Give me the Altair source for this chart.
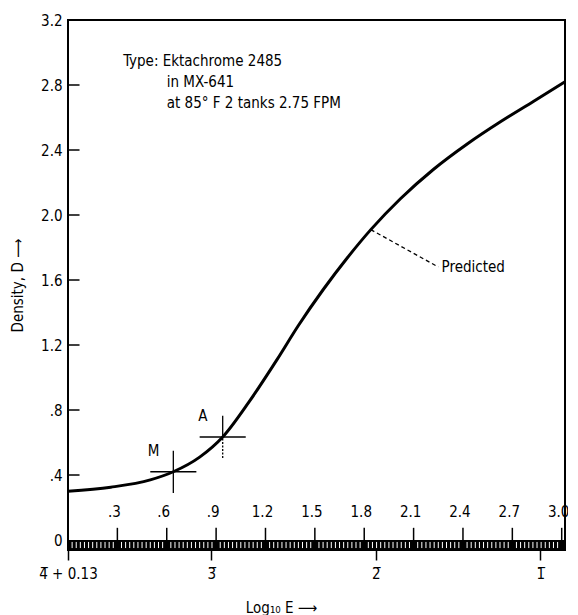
import altair as alt
import pandas as pd

FONT = "Liberation Sans Narrow, DejaVu Sans Condensed, Roboto, sans-serif"

# ---- data ----
curve_r = [0.0, 0.26, 0.5, 0.64, 0.80, 0.94, 1.10, 1.27, 1.40, 1.55, 1.70, 1.84, 2.02, 2.22, 2.43, 2.63, 2.83, 3.02]
curve_d = [0.30, 0.325, 0.37, 0.42, 0.51, 0.634, 0.85, 1.11, 1.32, 1.54, 1.74, 1.91, 2.10, 2.28, 2.44, 2.575, 2.70, 2.82]

top_scale_vals = [0.3, 0.6, 0.9, 1.2, 1.5, 1.8, 2.1, 2.4, 2.7, 3.0]
top_scale_labels = [".3", ".6", ".9", "1.2", "1.5", "1.8", "2.1", "2.4", "2.7", "3.0"]

bottom_vals = [0, 0.87, 1.87, 2.87]
bottom_labels = ["4\u0305 + 0.13", "3\u0305", "2\u0305", "1\u0305"]

y_vals = [0, 0.4, 0.8, 1.2, 1.6, 2.0, 2.4, 2.8, 3.2]
y_labels = ["0", ".4", ".8", "1.2", "1.6", "2.0", "2.4", "2.8", "3.2"]
y_inner_ticks = [0.4, 0.8, 1.2, 1.6, 2.0, 2.4, 2.8]

# crosshair points (M and A)
mark_names = ["M", "A"]
mark_r = [0.64, 0.94]
mark_d = [0.42, 0.634]
mark_lower_dashed = [False, True]

info_lines = ["Type: Ektachrome 2485", "in MX-641", "at 85\u00b0 F 2 tanks 2.75 FPM"]
info_r = [0.335, 0.60, 0.60]
info_d = [2.95, 2.82, 2.69]

X_DOM = [0, 3.02]
Y_DOM = [-0.0615, 3.2]
STRIP_LO = -0.0615


def expr_from(vals, labels):
    e = "''"
    for v, l in zip(reversed(vals), reversed(labels)):
        e = f"datum.value == {v} ? '{l}' : ({e})"
    return e


xs = alt.Scale(domain=X_DOM, nice=False, zero=False)
ys = alt.Scale(domain=Y_DOM, nice=False, zero=False)

X = alt.X("r:Q", scale=xs, axis=alt.Axis(
    values=bottom_vals, labelExpr=expr_from(bottom_vals, bottom_labels),
    tickSize=10, tickWidth=1.5, tickColor="black", domain=False, grid=False,
    labelFlush=False,
    labelFont=FONT, labelFontSize=15, labelColor="black", labelPadding=6,
    title="Log\u2081\u2080 E \u27f6", titleFont=FONT, titleFontSize=15,
    titleFontWeight="normal", titleColor="black", titlePadding=19, titleX=213,
))
Y = alt.Y("d:Q", scale=ys, axis=alt.Axis(
    values=y_vals, labelExpr=expr_from(y_vals, y_labels),
    ticks=False, domain=False, grid=False,
    labelFont=FONT, labelFontSize=15, labelColor="black", labelPadding=6,
    title="Density, D \u27f6", titleFont=FONT, titleFontSize=15,
    titleFontWeight="normal", titleColor="black", titlePadding=15,
))

curve_df = pd.DataFrame({"r": curve_r, "d": curve_d})
curve = alt.Chart(curve_df).mark_line(color="black", strokeWidth=3, interpolate="monotone").encode(x=X, y=Y)

# black strip along the bottom
strip_df = pd.DataFrame({"r": [X_DOM[0]], "r2": [X_DOM[1]], "d": [STRIP_LO], "d2": [0.0]})
strip = alt.Chart(strip_df).mark_rect(color="black").encode(
    x=alt.X("r:Q", scale=xs), x2="r2:Q", y=alt.Y("d:Q", scale=ys), y2="d2:Q")

# fine white divisions inside the strip
hatch_pos = [k * 0.025 for k in range(1, 121) if k % 12 != 0]
hatch_df = pd.DataFrame({"r": hatch_pos, "d": [STRIP_LO + 0.012] * len(hatch_pos), "d2": [-0.012] * len(hatch_pos)})
hatch = alt.Chart(hatch_df).mark_rule(color="white", strokeWidth=1).encode(
    x=alt.X("r:Q", scale=xs), y=alt.Y("d:Q", scale=ys), y2="d2:Q")

# top (relative) scale ticks and labels
ts_df = pd.DataFrame({"r": top_scale_vals, "lab": top_scale_labels,
                      "d": [0.0] * len(top_scale_vals), "d2": [0.075] * len(top_scale_vals),
                      "ly": [0.17] * len(top_scale_vals)})
ts_ticks = alt.Chart(ts_df).mark_rule(color="black", strokeWidth=1.5).encode(
    x=alt.X("r:Q", scale=xs), y=alt.Y("d:Q", scale=ys), y2="d2:Q")
ts_text = alt.Chart(ts_df).mark_text(font=FONT, fontSize=15, color="black", baseline="middle", dx=-3).encode(
    x=alt.X("r:Q", scale=xs), y=alt.Y("ly:Q", scale=ys), text="lab:N")

# inward y ticks
yt_df = pd.DataFrame({"d": y_inner_ticks, "r": [0.0] * len(y_inner_ticks), "r2": [0.07] * len(y_inner_ticks)})
y_ticks = alt.Chart(yt_df).mark_rule(color="black", strokeWidth=1.5).encode(
    y=alt.Y("d:Q", scale=ys), x=alt.X("r:Q", scale=xs), x2="r2:Q")

# crosshairs
h_rows, v_rows, vd_rows, lab_rows = [], [], [], []
for n, r, d, dashed in zip(mark_names, mark_r, mark_d, mark_lower_dashed):
    h_rows.append({"r": r - 0.14, "r2": r + 0.14, "d": d})
    if dashed:
        v_rows.append({"r": r, "d": d, "d2": d + 0.13})
        vd_rows.append({"r": r, "d": d - 0.13, "d2": d})
    else:
        v_rows.append({"r": r, "d": d - 0.13, "d2": d + 0.13})
    lab_rows.append({"r": r - 0.12, "d": d + 0.13, "lab": n})
cross_h = alt.Chart(pd.DataFrame(h_rows)).mark_rule(color="black", strokeWidth=1.3).encode(
    x=alt.X("r:Q", scale=xs), x2="r2:Q", y=alt.Y("d:Q", scale=ys))
cross_v = alt.Chart(pd.DataFrame(v_rows)).mark_rule(color="black", strokeWidth=1.3).encode(
    x=alt.X("r:Q", scale=xs), y=alt.Y("d:Q", scale=ys), y2="d2:Q")
cross_vd = alt.Chart(pd.DataFrame(vd_rows)).mark_rule(color="black", strokeWidth=1.3, strokeDash=[2, 1.5]).encode(
    x=alt.X("r:Q", scale=xs), y=alt.Y("d:Q", scale=ys), y2="d2:Q")
cross_lab = alt.Chart(pd.DataFrame(lab_rows)).mark_text(font=FONT, fontSize=15, color="black", baseline="middle").encode(
    x=alt.X("r:Q", scale=xs), y=alt.Y("d:Q", scale=ys), text="lab:N")

# Predicted leader
pred_df = pd.DataFrame({"r": [1.84], "d": [1.91], "r2": [2.25], "d2": [1.68]})
pred_line = alt.Chart(pred_df).mark_rule(color="black", strokeWidth=1.3, strokeDash=[4, 3]).encode(
    x=alt.X("r:Q", scale=xs), y=alt.Y("d:Q", scale=ys), x2="r2:Q", y2="d2:Q")
pred_txt_df = pd.DataFrame({"r": [2.27], "d": [1.68], "lab": ["Predicted"]})
pred_text = alt.Chart(pred_txt_df).mark_text(font=FONT, fontSize=15, color="black", align="left", baseline="middle").encode(
    x=alt.X("r:Q", scale=xs), y=alt.Y("d:Q", scale=ys), text="lab:N")

# info text block
info_df = pd.DataFrame({"r": info_r, "d": info_d, "lab": info_lines})
info = alt.Chart(info_df).mark_text(font=FONT, fontSize=15, color="black", align="left", baseline="middle").encode(
    x=alt.X("r:Q", scale=xs), y=alt.Y("d:Q", scale=ys), text="lab:N")

chart = alt.layer(
    curve, strip, hatch, ts_ticks, ts_text, y_ticks,
    cross_h, cross_v, cross_vd, cross_lab, pred_line, pred_text, info,
).properties(
    width=497, height=530,
    autosize=alt.AutoSizeParams(type="none"),
    padding={"left": 60, "top": 12, "right": 3, "bottom": 65},
    background="white",
).configure_view(stroke="black", strokeWidth=2)

chart.save("out.html", embed_options={"renderer": "svg", "actions": False})
